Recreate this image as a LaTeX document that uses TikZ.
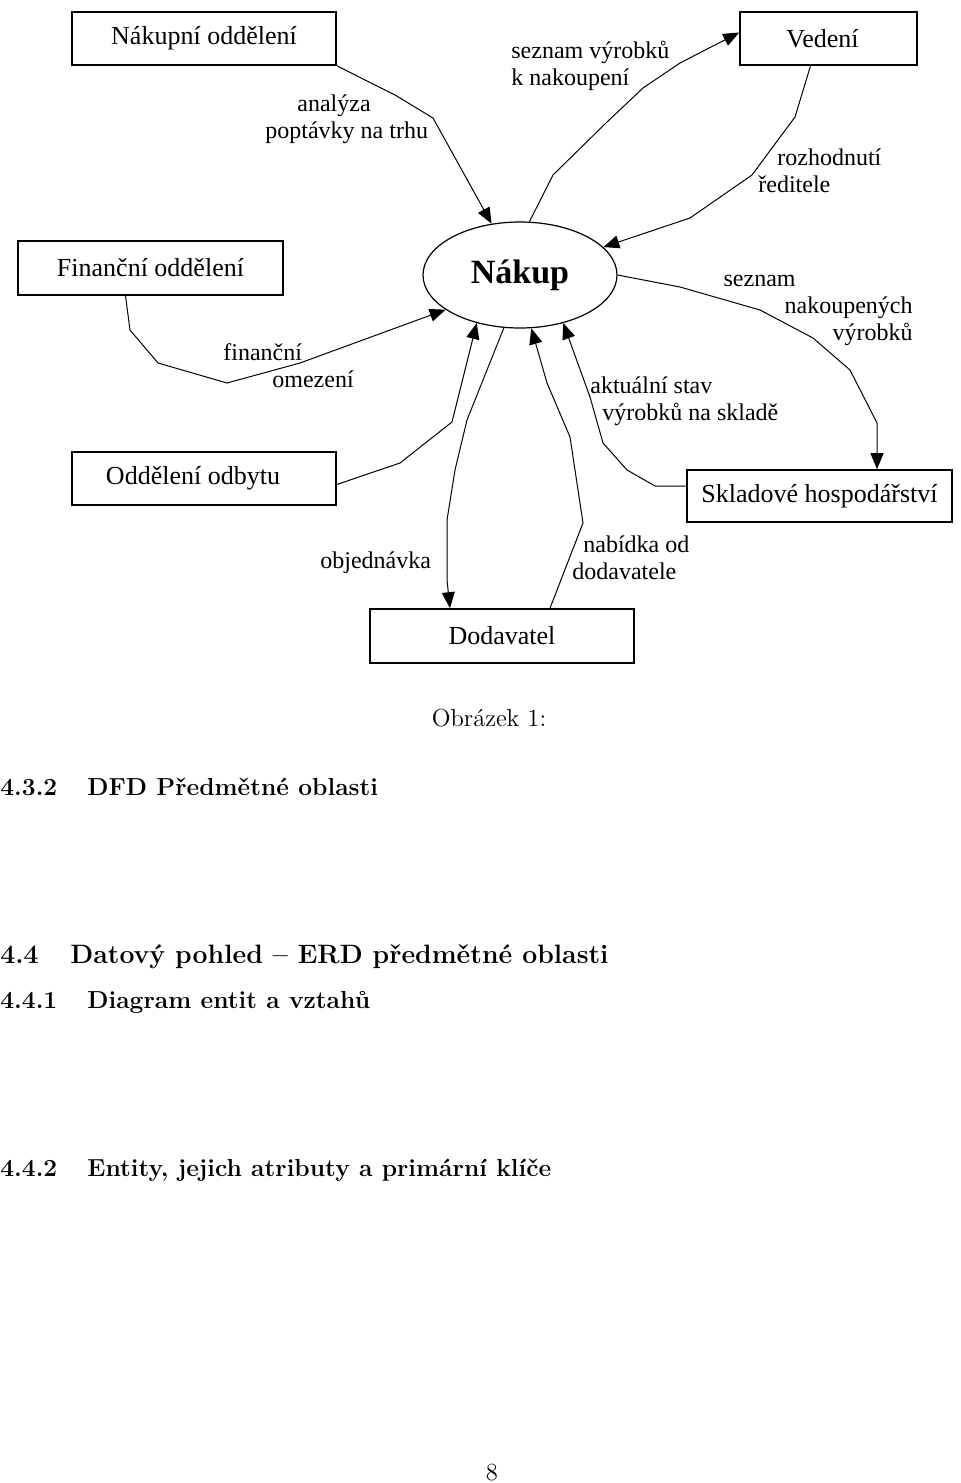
\documentclass[tikz,border=0pt]{standalone}
\usepackage{fontspec}
\newfontfamily\dfdfont{Liberation Serif}
\usetikzlibrary{arrows.meta,shapes.geometric}

\begin{document}
\begin{tikzpicture}[>={Triangle[length=8pt,width=6.5pt]},x=0.5pt,y=-0.5pt,
	box/.style={draw,line width=0.8pt,inner sep=0pt,font=\dfdfont\fontsize{13}{15}\selectfont},
	tok/.style={->,line width=0.5pt},
	lbl/.style={inner sep=0pt,font=\dfdfont\fontsize{12}{13.5}\selectfont},
	head/.style={anchor=base west,inner sep=0pt,font=\fontsize{12.3}{14}\selectfont\bfseries}]
	\useasboundingbox (0,0) rectangle (960,1483);
	% DFD
	\node[draw,ellipse,line width=0.6pt,minimum width=97pt,minimum height=53pt,inner sep=0pt,font=\dfdfont\fontsize{17}{19}\selectfont\bfseries] (nakup) at (520,275) {Nákup};
	\node[box,minimum width=132pt,minimum height=26.5pt] (nakodd) at (204,38.5) {Nákupní oddělení};
	\node[box,minimum width=88.5pt,minimum height=26.5pt] (vedeni) at (828.5,38.5) {Vedení\hspace*{6pt}};
	\node[box,minimum width=132.5pt,minimum height=27pt] (finodd) at (150.5,268) {Finanční oddělení};
	\node[box,minimum width=132pt,minimum height=26.5pt] (odbyt) at (204,478.5) {Oddělení odbytu\hspace*{11pt}};
	\node[box,minimum width=132.5pt,minimum height=26pt] (sklad) at (819.5,496) {Skladové hospodářství};
	\node[box,minimum width=132pt,minimum height=27pt] (dodav) at (502,636) {Dodavatel};
	\coordinate (sk) at (877,423);
	\draw[tok] (nakodd.south east) -- (395,95) -- (433,118) -- (nakup);
	\draw[tok] (nakup.80) -- (553,175) -- (607,122) -- (643,88) -- (680,63) -- ([yshift=3pt]vedeni.west);
	\draw[tok] ([xshift=-9pt]vedeni.south) -- (795,117) -- (752,175) -- (690,218) -- (nakup);
	\draw[tok] (nakup.east) -- (680,287) -- (760,310) -- (813,338) -- (850,370) -- (sk) -- (sk |- sklad.north);
	\draw[tok] ([xshift=-12.5pt]finodd.south) -- (130,330) -- (158,363) -- (227,383) -- (300,363) -- (nakup.205);
	\draw[tok] ([yshift=-3pt]odbyt.east) -- (400,463) -- (452,422) -- (nakup.228);
	\draw[tok] (nakup.253) -- (467,420) -- (455,470) -- (447,520) -- (447,580) -- ([xshift=-26pt]dodav.north);
	\draw[tok] ([xshift=24pt]dodav.north) -- (583,523) -- (570,437) -- (547,383) -- (nakup.282);
	\draw[tok] ([yshift=5pt]sklad.west) -- (655,486) -- (627,470) -- (603,443) -- (590,397) -- (nakup.312);
	\node[lbl,anchor=west,align=left] (lanal) at (265,119) {\hspace*{16pt}analýza\\poptávky na trhu};
	\node[lbl,anchor=west,align=left] (lsez) at (511,66) {seznam výrobků\\k nakoupení};
	\node[lbl,anchor=west,align=left] (lroz) at (758,171) {\hspace*{9.5pt}rozhodnutí\\ředitele};
	\node[lbl,anchor=east,align=right] (lnak) at (913,310) {seznam\hspace*{58.5pt}\\nakoupených\\výrobků};
	\node[lbl,anchor=west,align=left] (lfin) at (223,366) {finanční\\\hspace*{24.5pt}omezení};
	\node[lbl,anchor=west,align=left] (lakt) at (590,401) {aktuální stav\\\hspace*{6pt}výrobků na skladě};
	\node[lbl,anchor=west] (lobj) at (320,563) {objednávka};
	\node[lbl,anchor=west,align=left] (lnab) at (572,558) {\hspace*{5.5pt}nabídka od\\dodavatele};
	% text pod obrazkem
	\node[inner sep=0pt,anchor=base,font=\fontsize{12.3}{14}\selectfont] (capt) at (489,726) {Obrázek 1:};
	\node[head] (h432) at (0,795) {\makebox[43.5pt][l]{4.3.2}DFD Předmětné oblasti};
	\node[head,font=\fontsize{13.3}{16}\selectfont\bfseries] (h44) at (0,963) {\makebox[35pt][l]{4.4}Datový pohled – ERD předmětné oblasti};
	\node[head] (h441) at (0,1008) {\makebox[43.5pt][l]{4.4.1}Diagram entit a vztahů};
	\node[head] (h442) at (0,1176) {\makebox[43.5pt][l]{4.4.2}Entity, jejich atributy a primární klíče};
	\node[inner sep=0pt,anchor=base,font=\fontsize{12.3}{14}\selectfont] (pnum) at (492,1480) {8};
\end{tikzpicture}
\end{document}
